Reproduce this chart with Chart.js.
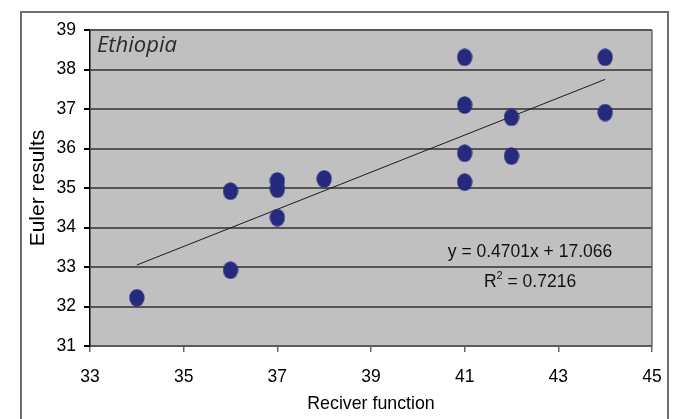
<!DOCTYPE html>
<html>
<head>
<meta charset="utf-8">
<script src="https://cdn.jsdelivr.net/npm/chart.js@4"></script>
<style>
  html, body { margin: 0; padding: 0; background: #fff; }
  #wrap { width: 678px; height: 419px; }
</style>
</head>
<body>
<div id="wrap"><canvas id="eulerChart" width="678" height="419"></canvas></div>
<script>
// 데이터
const receiverX = [34, 36, 36, 37, 37, 37, 38, 41, 41, 41, 41, 42, 42, 44, 44];
const eulerY = [32.22, 34.92, 32.92, 35.18, 34.97, 34.25, 35.23, 38.31, 37.10, 35.88, 35.15, 36.79, 35.81, 38.31, 36.91];
const trendX = [34, 44];
const trendY = [33.05, 37.75];
const xTicks = [33, 35, 37, 39, 41, 43, 45];
const yTicks = [31, 32, 33, 34, 35, 36, 37, 38, 39];
const regionLabel = 'Ethiopia';
const equationText = 'y = 0.4701x + 17.066';
const r2Text = '= 0.7216';

// 타원 마커
const marker = document.createElement('canvas');
marker.width = 16;
marker.height = 18;
const mctx = marker.getContext('2d');
mctx.fillStyle = '#262a7e';
mctx.beginPath();
mctx.ellipse(8, 9, 7.6, 8.8, 0, 0, Math.PI * 2);
mctx.fill();

const framePlugin = {
    id: 'frame',
    beforeDraw(chart) {
        const { ctx, chartArea: a } = chart;
        ctx.save();
        ctx.fillStyle = '#fff';
        ctx.fillRect(0, 0, chart.width, chart.height);
        ctx.strokeStyle = '#6e6e6e';
        ctx.lineWidth = 2;
        ctx.strokeRect(21, 12, 647, 420);
        ctx.fillStyle = '#c0c0c0';
        ctx.fillRect(a.left, a.top, a.right - a.left, a.bottom - a.top);
        ctx.restore();
    },
    afterDatasetsDraw(chart) {
        const { ctx, chartArea: a } = chart;
        ctx.save();
        ctx.strokeStyle = '#6a6a6a';
        ctx.lineWidth = 1.5;
        ctx.beginPath();
        ctx.moveTo(a.right, a.top);
        ctx.lineTo(a.right, a.bottom);
        ctx.stroke();

        ctx.fillStyle = '#2a2a2a';
        ctx.font = 'italic 22px "Open Sans"';
        ctx.textBaseline = 'alphabetic';
        ctx.textAlign = 'left';
        ctx.fillText(regionLabel, 97, 52);

        ctx.fillStyle = '#111';
        ctx.font = '17.5px "Liberation Sans"';
        ctx.textAlign = 'center';
        ctx.fillText(equationText, 530, 257);
        // R² 줄
        ctx.textAlign = 'left';
        const rW = ctx.measureText('R').width;
        const restW = ctx.measureText(' ' + r2Text).width;
        ctx.font = '11px "Liberation Sans"';
        const supW = ctx.measureText('2').width;
        const start = 530 - (rW + supW + restW) / 2;
        ctx.font = '17.5px "Liberation Sans"';
        ctx.fillText('R', start, 287);
        ctx.fillText(' ' + r2Text, start + rW + supW, 287);
        ctx.font = '11px "Liberation Sans"';
        ctx.fillText('2', start + rW, 279);
        ctx.restore();
    }
};

const tickFont = { family: '"Liberation Sans", Arial', size: 17.5 };

new Chart(document.getElementById('eulerChart'), {
    type: 'scatter',
    data: {
        datasets: [
            {
                label: 'Euler',
                data: receiverX.map((x, i) => ({ x: x, y: eulerY[i] })),
                pointStyle: marker,
                pointRadius: 8,
                pointHoverRadius: 8
            },
            {
                label: 'Trend',
                type: 'line',
                data: trendX.map((x, i) => ({ x: x, y: trendY[i] })),
                borderColor: '#1a1a1a',
                borderWidth: 1,
                pointRadius: 0,
                fill: false
            }
        ]
    },
    options: {
        responsive: false,
        animation: false,
        events: [],
        layout: { padding: { left: 0, top: 30, right: 26, bottom: 0 } },
        plugins: {
            legend: { display: false },
            tooltip: { enabled: false }
        },
        scales: {
            x: {
                type: 'linear',
                min: 33,
                max: 45,
                afterFit: s => { s.height = 73; },
                afterBuildTicks: s => { s.ticks = xTicks.map(v => ({ value: v })); },
                ticks: { color: '#000', font: tickFont, padding: 15 },
                grid: { drawOnChartArea: false, tickColor: '#666', tickLength: 6, lineWidth: 1.5 },
                border: { color: '#5a5a5a', width: 2 },
                title: {
                    display: true,
                    text: 'Reciver function',
                    color: '#000',
                    font: { family: '"Liberation Sans", Arial', size: 17.8 },
                    padding: { top: 0, bottom: 4 }
                }
            },
            y: {
                min: 31,
                max: 39,
                afterFit: s => { s.width = 90; },
                afterBuildTicks: s => { s.ticks = yTicks.map(v => ({ value: v })); },
                ticks: { color: '#000', font: tickFont, padding: 8 },
                grid: { color: '#555', lineWidth: 2, tickColor: '#000', tickLength: 6 },
                border: { color: '#000', width: 1.5 },
                title: {
                    display: true,
                    text: 'Euler results',
                    color: '#000',
                    font: { family: '"Liberation Sans", Arial', size: 21 },
                    padding: { top: 26, bottom: 0 }
                }
            }
        }
    },
    plugins: [framePlugin]
});
</script>
</body>
</html>
